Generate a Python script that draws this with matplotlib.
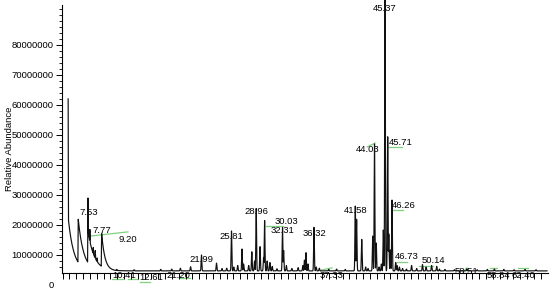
import numpy as np
import matplotlib
matplotlib.use("Agg")
import matplotlib.pyplot as plt
from matplotlib.ticker import FixedLocator

plt.rcParams['font.family'] = ['Liberation Sans', 'DejaVu Sans']

# ---------------- data (retention time in min, abundance) ----------------
baseline = 4.7e6

# solvent-front style tailing peaks: start time, top height, tail start height, decay (min)
tail_times = [5.00, 6.29, 7.53, 9.27]
tail_tops = [62.0e6, 21.9e6, 29.0e6, 17.2e6]
tail_starts = [22.7e6, 21.9e6, 18.0e6, 17.2e6]
tail_decay = [0.70, 0.68, 0.80, 0.42]

# discrete peaks: retention time, apex height
peak_times = [7.77, 8.20, 8.45, 8.70,
              11.2, 13.4, 16.8, 18.2, 19.3, 20.6, 21.99, 23.9, 24.6, 25.2,
              25.81, 26.1, 26.6, 27.15, 27.35, 28.0, 28.4, 28.75, 28.96,
              29.45, 29.9, 30.03, 30.35, 30.7, 31.0, 31.6,
              32.31, 32.45, 32.8, 33.5, 34.3, 34.9, 35.1, 35.3, 35.55,
              36.32, 36.6, 37.0, 38.2, 39.2, 40.3,
              41.58, 41.75, 42.4, 42.9, 43.2, 43.8, 44.03, 44.25, 44.6, 44.9,
              45.15, 45.37, 45.71, 45.85, 46.05, 46.26, 46.73, 46.9, 47.2,
              47.6, 48.1, 48.75, 49.4, 50.14, 50.6, 51.3, 51.95, 52.3, 53.0,
              54.2, 55.8, 57.1, 58.4, 59.3, 60.5, 61.8, 63.2, 64.6]
peak_heights = [18.5e6, 12.5e6, 11.5e6, 9.0e6,
                5.2e6, 5.1e6, 5.2e6, 5.3e6, 5.6e6, 6.1e6, 10.0e6, 7.3e6, 5.5e6, 5.6e6,
                18.0e6, 6.0e6, 6.5e6, 12.0e6, 7.0e6, 6.5e6, 11.1e6, 8.0e6, 25.5e6,
                12.8e6, 9.2e6, 21.5e6, 8.0e6, 7.5e6, 6.2e6, 5.4e6,
                19.2e6, 11.5e6, 6.5e6, 5.5e6, 5.8e6, 6.5e6, 8.3e6, 10.8e6, 7.0e6,
                19.2e6, 6.0e6, 5.6e6, 5.2e6, 5.3e6, 5.2e6,
                26.3e6, 21.9e6, 15.2e6, 6.0e6, 5.5e6, 16.3e6, 47.0e6, 14.0e6, 6.0e6, 7.0e6,
                18.3e6, 96.0e6, 49.4e6, 17.0e6, 11.7e6, 28.3e6, 7.5e6, 6.5e6, 6.0e6,
                5.5e6, 5.3e6, 6.5e6, 5.5e6, 6.8e6, 6.0e6, 6.5e6, 6.2e6, 5.3e6, 5.2e6,
                5.1e6, 5.4e6, 5.1e6, 5.2e6, 5.3e6, 5.2e6, 5.1e6, 5.2e6, 5.1e6]

# peak labels: text, x (min), y (abundance, centre of text)
label_texts = ["7.53", "7.77", "9.20", "10.41", "12.61", "21.20", "21.99",
               "25.81", "28.96", "30.03", "32.31", "36.32", "37.33", "41.58",
               "44.03", "45.37", "45.71", "46.26", "46.73", "50.14",
               "58.51", "58.84", "62.40"]
label_x = [7.66, 9.31, 12.62, 12.11, 15.64, 19.0, 21.99,
           25.81, 28.96, 32.75, 32.31, 36.32, 38.57, 41.58,
           43.16, 45.37, 47.4, 47.7, 48.16, 51.52,
           55.8, 59.8, 63.0]
label_y = [24.0e6, 18.0e6, 15.3e6, 3.0e6, 2.6e6, 3.3e6, 8.6e6,
           16.0e6, 24.4e6, 21.3e6, 18.0e6, 17.0e6, 3.0e6, 24.7e6,
           45.0e6, 92.3e6, 47.4e6, 26.4e6, 9.4e6, 8.1e6,
           4.4e6, 3.2e6, 3.2e6]

# green integration marks: (t0, t1, y0, y1)
mark_t0 = [7.79, 10.58, 12.6, 14.15, 19.1, 30.2, 37.3, 43.1, 45.87, 46.4, 46.9, 49.7, 55.3, 58.7, 62.3]
mark_t1 = [12.62, 11.98, 13.9, 15.4, 20.5, 32.4, 38.6, 44.1, 47.5, 47.65, 48.2, 51.5, 55.8, 59.6, 63.6]
mark_y0 = [16.3e6, 2.0e6, 2.0e6, 1.0e6, 2.3e6, 19.8e6, 5.0e6, 46.0e6, 46.1e6, 25.0e6, 7.8e6, 6.4e6, 4.3e6, 5.7e6, 5.7e6]
mark_y1 = [17.7e6, 2.0e6, 2.0e6, 1.0e6, 2.3e6, 19.8e6, 5.7e6, 47.3e6, 46.1e6, 25.0e6, 7.8e6, 6.4e6, 5.7e6, 5.7e6, 5.7e6]

# ---------------- build trace ----------------
t = np.linspace(5.0, 66.0, 30000)
y = np.full_like(t, baseline)
for t0, top, start, tau in zip(tail_times, tail_tops, tail_starts, tail_decay):
    after = t >= t0
    tail = np.where(after, baseline + (start - baseline) * np.exp(-(t - t0) / tau), baseline)
    rise = baseline + (top - baseline) * np.exp(-0.5 * ((t - t0) / 0.025) ** 2)
    y = np.maximum(y, np.maximum(tail, rise))
for pt, ph in zip(peak_times, peak_heights):
    prof = baseline + (ph - baseline) * np.exp(-0.5 * ((t - pt) / 0.045) ** 2)
    y = np.maximum(y, prof)

# ---------------- plot ----------------
fig = plt.figure(figsize=(5.5, 2.91), dpi=100)
ax = fig.add_axes([62 / 550, 6 / 291, 486 / 550, 280 / 291])
xmin, xmax = 4.22, 66.13
ymin, ymax = 0, 93.3e6
ax.set_xlim(xmin, xmax)
ax.set_ylim(ymin, ymax)

ax.plot(t, y, color='#111111', lw=0.85, zorder=3, clip_on=False)

for txt, lx, ly in zip(label_texts, label_x, label_y):
    ax.text(lx, ly, txt, ha='center', va='center', fontsize=6.8, color='black', zorder=2)

for a, b, c, d in zip(mark_t0, mark_t1, mark_y0, mark_y1):
    ax.plot([a, b], [c, d], color='#7fd07f', lw=0.9, zorder=1, clip_on=False)

axis_base = 4.1e6
for s in ['top', 'right']:
    ax.spines[s].set_visible(False)
ax.spines['bottom'].set_position(('data', axis_base))
ax.spines['left'].set_bounds(axis_base, ymax)
ax.spines['left'].set_linewidth(0.8)
ax.spines['bottom'].set_linewidth(0.8)

yt = [0, 10e6, 20e6, 30e6, 40e6, 50e6, 60e6, 70e6, 80e6]
ax.yaxis.set_major_locator(FixedLocator(yt))
ax.set_yticklabels(["%d" % v for v in yt])
ax.yaxis.set_minor_locator(FixedLocator(np.arange(6e6, 93e6, 2e6)))
ax.tick_params(axis='y', which='major', length=4, width=0.7, labelsize=6.8, pad=2)
ax.tick_params(axis='y', which='minor', length=2.5, width=0.6)
ax.yaxis.get_major_ticks()[0].tick1line.set_visible(False)

ax.xaxis.set_major_locator(FixedLocator(np.arange(4.3, 66.0, 0.87)))
ax.tick_params(axis='x', which='major', length=4, width=0.7, direction='out', labelbottom=False)

fig.text(10 / 550, 1 - 149 / 291, "Relative Abundance", rotation=90,
         ha='center', va='center', fontsize=6.8)

fig.savefig("out.png", dpi=100)
